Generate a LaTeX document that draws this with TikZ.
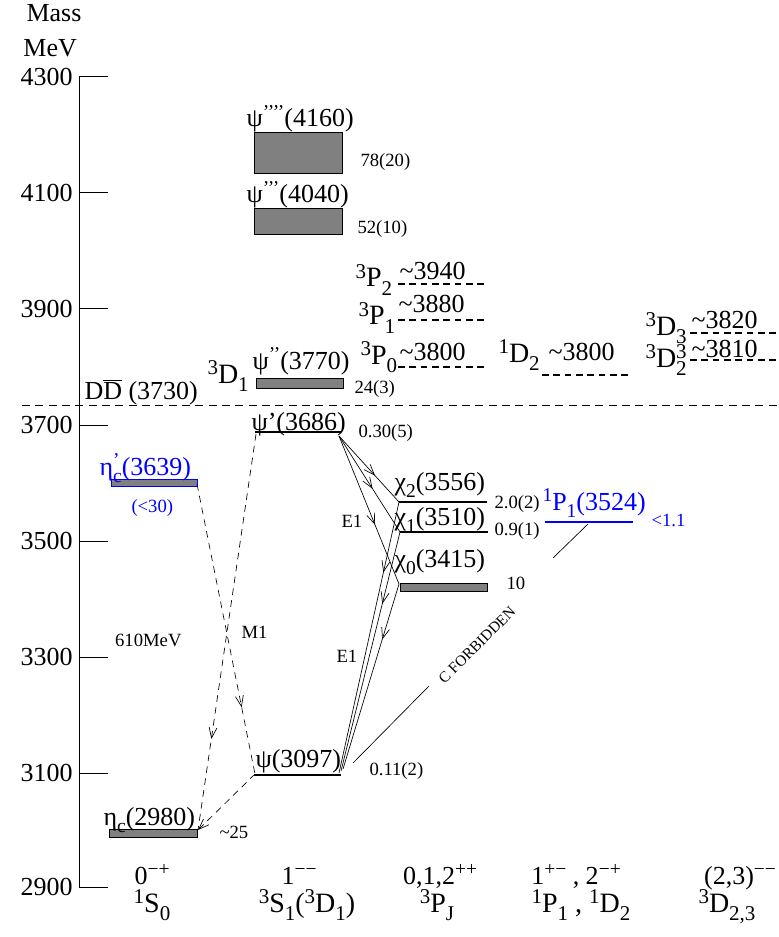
\documentclass[tikz,border=0pt]{standalone}
\usepackage{fontspec}
\usepackage{graphicx}
\setmainfont{Liberation Serif}
\usetikzlibrary{arrows.meta,decorations.markings}

\newcommand{\upidx}[1]{\raisebox{0.32em}{\scalebox{0.75}{#1}}}
\newcommand{\dnidx}[1]{\raisebox{-0.3em}{\scalebox{0.75}{#1}}}

\tikzset{every picture/.style={line width=0.75pt}}
\tikzset{
  big/.style={font=\fontsize{19.5}{22}\selectfont,inner sep=0.75pt},
  term/.style={font=\fontsize{21}{24}\selectfont,inner sep=0.75pt},
  small/.style={font=\fontsize{14}{17}\selectfont,inner sep=0.75pt},
  tiny/.style={font=\fontsize{11.5}{13}\selectfont,inner sep=0.75pt},
  level/.style={line width=0.9pt},
  widthbox/.style={draw=black,fill={rgb,255:red,128;green,128;blue,128}},
  guess/.style={line width=0.8pt,dash pattern=on 5pt off 3.5pt},
  thresh/.style={line width=0.6pt,dash pattern=on 6pt off 4pt},
  trans/.style={line width=0.5pt},
  mtrans/.style={line width=0.5pt,dash pattern=on 5pt off 4pt},
  midtip/.style={postaction={decorate,decoration={markings,
      mark=at position #1 with {\arrow{Straight Barb[length=8pt,width=6pt]}}}}},
}

\begin{document}
\begin{tikzpicture}[x=0.75pt,y=0.75pt,yscale=-1,xscale=1]
\useasboundingbox (0,0) rectangle (778,937);

% mass axis
\node[big,anchor=base west] (massA) at (25,22) {Mass};
\node[big,anchor=base west] (massB) at (22,57) {MeV};
\draw (79,77) -- (79,887);
\foreach \m/\y in {4300/77,4100/193,3900/309,3700/425,3500/541,3300/657,3100/773,2900/887}{
  \draw (79,\y) -- (108,\y);
  \node[big,anchor=east] (t\m) at (74,\y) {\m};
}

% DDbar threshold
\draw[thresh] (22,405) -- (778,405);
\node[big,anchor=base west] (ddbar) at (83,399) {D$\overline{\mbox{D}}$ (3730)};

%Shape: levels with width
\draw[widthbox] (254,133) rectangle (342,174);
\draw[widthbox] (254,209) rectangle (342,235);
\draw[widthbox] (256,378) rectangle (343,388);
\draw[widthbox,draw=blue] (111,479) rectangle (197,486);
\draw[widthbox] (400,583) rectangle (487,591);
\draw[widthbox] (109,829) rectangle (197,837);
%Straight Lines: narrow levels
\draw[level] (255,432) -- (341,432);
\draw[level] (399,502) -- (487,502);
\draw[level] (400,532) -- (488,532);
\draw[level,blue] (545,522) -- (633,522);
\draw[level] (254,775) -- (341,775);
%Straight Lines: predicted levels
\draw[guess] (398,284) -- (485,284);
\draw[guess] (398,320) -- (485,320);
\draw[guess] (398,367) -- (485,367);
\draw[guess] (542,375) -- (628,375);
\draw[guess] (690,333) -- (778,333);
\draw[guess] (690,360) -- (778,360);

% level ends
\coordinate (psipL) at (256,434);
\coordinate (psipR) at (339,436);
\coordinate (etapR) at (197,484);
\coordinate (chiTwoL) at (399,502);
\coordinate (chiOneL) at (400,532);
\coordinate (chiZeroL) at (399,584);
\coordinate (psiL) at (255,774);
\coordinate (psiRa) at (339,773);
\coordinate (psiRb) at (341,771);
\coordinate (psiRc) at (343,769);
\coordinate (etaR) at (198,830);

%Straight Lines: E1 transitions
\draw[trans,midtip=0.6] (psipR) -- (chiTwoL);
\draw[trans,midtip=0.55] (psipR) -- (chiOneL);
\draw[trans,midtip=0.6] (psipR) -- (chiZeroL);
\draw[trans,midtip=0.26] (chiTwoL) -- (psiRa);
\draw[trans,midtip=0.3] (chiOneL) -- (psiRb);
\draw[trans,midtip=0.3] (chiZeroL) -- (psiRc);
%Straight Lines: M1 transitions
\draw[mtrans,midtip=0.77] (psipL) -- (etaR);
\draw[mtrans,midtip=0.77] (etapR) -- (psiL);
\draw[mtrans,-{Straight Barb[length=8pt,width=6pt]}] (psiL) -- (etaR);

% Text Node: states
\node[big,anchor=base west] (psiF) at (245,127) {ψ\upidx{’’’’}(4160)};
\node[big,anchor=base west] (psiE) at (245,203) {ψ\upidx{’’’}(4040)};
\node[big,anchor=base west] (psiD) at (251,369) {ψ\upidx{’’}(3770)};
\node[term,anchor=base west] (dOne) at (206,383) {\upidx{3}D\dnidx{1}};
\node[big,anchor=base west] (psiP) at (250,430) {ψ’(3686)};
\node[big,anchor=base west,blue] (etaP) at (98,475) {η\rlap{\upidx{’}}\dnidx{c}(3639)};
\node[big,anchor=base west] (chiT) at (393,490) {χ\dnidx{2}(3556)};
\node[big,anchor=base west] (chiO) at (393,525) {χ\dnidx{1}(3510)};
\node[big,anchor=base west] (chiZ) at (393,567) {χ\dnidx{0}(3415)};
\node[big,anchor=base west,blue] (hc) at (541,510) {\upidx{1}P\dnidx{1}(3524)};
\node[big,anchor=base west] (psiJ) at (254,767) {ψ(3097)};
\node[big,anchor=base west] (etaC) at (102,825) {η\dnidx{c}(2980)};

% Text Node: predicted states
\node[term,anchor=base west] (pTwo) at (354,287) {\upidx{3}P\dnidx{2}};
\node[term,anchor=base west] (pOne) at (357,325) {\upidx{3}P\dnidx{1}};
\node[term,anchor=base west] (pZero) at (359,364) {\upidx{3}P\dnidx{0}};
\node[big,anchor=base west] (mTwo) at (398,280) {\textasciitilde3940};
\node[big,anchor=base west] (mOne) at (397,313) {\textasciitilde3880};
\node[big,anchor=base west] (mZero) at (398,360) {\textasciitilde3800};
\node[term,anchor=base west] (dSing) at (497,362) {\upidx{1}D\dnidx{2}};
\node[big,anchor=base west] (mSing) at (547,360) {\textasciitilde3800};
\node[term,anchor=base west] (dThree) at (644,335) {\upidx{3}D\dnidx{3}};
\node[term,anchor=base west] (dTwo) at (644,367) {\upidx{3}D\rlap{\upidx{3}}\dnidx{2}};
\node[big,anchor=base west] (mThree) at (690,329) {\textasciitilde3820};
\node[big,anchor=base west] (mTwoD) at (690,357) {\textasciitilde3810};

% Text Node: widths
\node[small,anchor=base west] (wF) at (359,167) {78(20)};
\node[small,anchor=base west] (wE) at (356,234) {52(10)};
\node[small,anchor=base west] (wD) at (353,393) {24(3)};
\node[small,anchor=base west] (wP) at (357,437) {0.30(5)};
\node[small,anchor=base west,blue] (wEtaP) at (130,512) {(<30)};
\node[small,anchor=base west] (wChiT) at (493,508) {2.0(2)};
\node[small,anchor=base west] (wChiO) at (493,535) {0.9(1)};
\node[small,anchor=base west,blue] (wHc) at (650,526) {<1.1};
\node[small,anchor=base west] (wChiZ) at (505,589) {10};
\node[small,anchor=base west] (wJ) at (368,775) {0.11(2)};
\node[small,anchor=base west] (wEta) at (218,838) {\textasciitilde25};

% Text Node: transitions
\node[small,anchor=base west] (eOneA) at (340,527) {E1};
\node[small,anchor=base west] (eOneB) at (335,662) {E1};
\node[small,anchor=base west] (mOneT) at (240,638) {M1};
\node[small,anchor=base east] (split) at (183,646) {610MeV};
\node[tiny,rotate=45] (cforb) at (477,645) {C FORBIDDEN};
\coordinate (cfLow) at (353,763);
\coordinate (cfHigh) at (588,524);
\draw[trans] (cfLow) -- (429,686);
\draw[trans] (553,558) -- (cfHigh);

% Text Node: quantum numbers
\node[big,anchor=base] (jA) at (152,884) {0\upidx{−+}};
\node[big,anchor=base] (jB) at (299,884) {1\upidx{−−}};
\node[big,anchor=base] (jC) at (440,884) {0,1,2\upidx{++}};
\node[big,anchor=base] (jD) at (576,884) {1\upidx{+−} , 2\upidx{−+}};
\node[big,anchor=base] (jE) at (740,884) {(2,3)\upidx{−−}};
\node[term,anchor=base] (sA) at (152,912) {\upidx{1}S\dnidx{0}};
\node[term,anchor=base] (sB) at (307,912) {\upidx{3}S\dnidx{1}(\upidx{3}D\dnidx{1})};
\node[term,anchor=base] (sC) at (437,912) {\upidx{3}P\dnidx{J}};
\node[term,anchor=base] (sD) at (581,912) {\upidx{1}P\dnidx{1} , \upidx{1}D\dnidx{2}};
\node[term,anchor=base] (sE) at (727,912) {\upidx{3}D\dnidx{2,3}};

\end{tikzpicture}
\end{document}
